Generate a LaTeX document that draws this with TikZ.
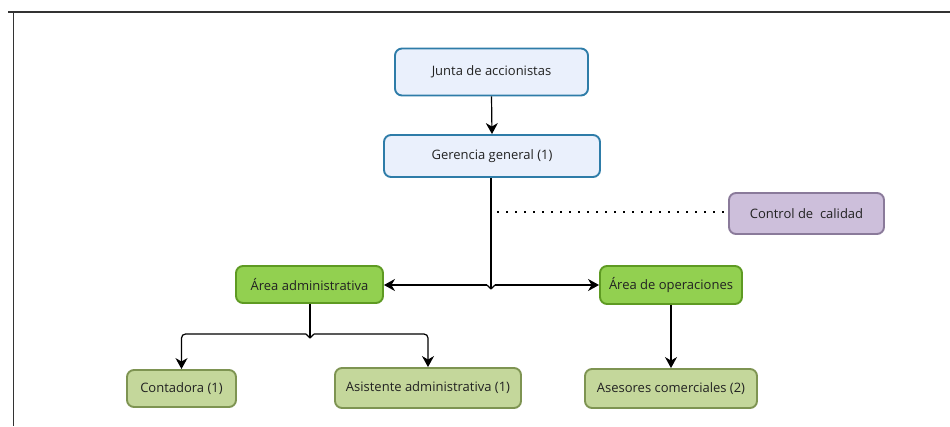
\documentclass[tikz,border=0pt]{standalone}
\usepackage{fontspec}
\setmainfont{Open Sans}
\usetikzlibrary{arrows.meta}
\definecolor{bluefill}{HTML}{EAF0FC}
\definecolor{blueline}{HTML}{2E7CA8}
\definecolor{purpfill}{HTML}{CDBFDB}
\definecolor{purpline}{HTML}{8A7A9A}
\definecolor{greenfill}{HTML}{92D050}
\definecolor{greenline}{HTML}{5E9A22}
\definecolor{olivefill}{HTML}{C4D79B}
\definecolor{oliveline}{HTML}{7E9452}
\definecolor{txt}{HTML}{222222}
\tikzset{
  box/.style={rounded corners=7pt, line width=1.9pt, text=txt, font=\fontsize{13}{15}\selectfont, inner sep=0pt, anchor=center},
  topbox/.style={box, draw=blueline, fill=bluefill},
  qcbox/.style={box, draw=purpline, fill=purpfill},
  areabox/.style={box, draw=greenline, fill=greenfill},
  leafbox/.style={box, draw=oliveline, fill=olivefill},
  conn/.style={draw=black, line width=1.2pt},
  arr/.style={conn, -{Stealth[length=11pt,width=12pt,inset=3.5pt]}},
}
\begin{document}
\begin{tikzpicture}[x=1pt,y=-1pt]
\useasboundingbox (0,0) rectangle (950,426);
\fill[white] (0,0) rectangle (950,426);
% frame
\draw[line width=1.3pt, draw=black!80] (8,12) -- (950,12);
\draw[line width=1pt, draw=black!80] (13,12) -- (13,426);
% nodes
\node[topbox, minimum width=193pt, minimum height=47pt] (junta) at (491.5,72) {Junta de accionistas};
\node[topbox, minimum width=216pt, minimum height=42pt] (ger) at (492,156) {Gerencia general (1)};
\node[qcbox, minimum width=155pt, minimum height=41pt] (qc) at (806.5,213.5) {Control de\ \ calidad};
\node[areabox, minimum width=147pt, minimum height=37pt] (adm) at (309.5,284.5) {Área administrativa};
\node[areabox, minimum width=142pt, minimum height=38pt] (ope) at (671,285) {Área de operaciones};
\node[leafbox, minimum width=109pt, minimum height=37pt] (cont) at (181.5,388.5) {Contadora (1)};
\node[leafbox, minimum width=186pt, minimum height=40pt] (asis) at (428,388) {Asistente administrativa (1)};
\node[leafbox, minimum width=172pt, minimum height=39pt] (ases) at (671,388.5) {Asesores comerciales (2)};
% coordinates
\coordinate (hj) at (491,285);
\coordinate (dotA) at (497,212);
\coordinate (aj) at (310,334);
% connectors
\draw[arr] (junta.south) -- (ger.north);
\draw[conn] (ger.south -| hj) -- ([yshift=-4pt]hj);
\draw[conn] ([yshift=-4pt]hj) -- ([xshift=-4pt]hj);
\draw[conn] ([yshift=-4pt]hj) -- ([xshift=4pt]hj);
\draw[arr] ([xshift=-4pt]hj) -- (adm.east |- hj);
\draw[arr] ([xshift=4pt]hj) -- (ope.west |- hj);
\draw[conn, line width=2pt, dash pattern=on 2pt off 7pt] (dotA) -- (qc.west |- dotA);
\draw[conn] (adm.south -| aj) -- ([yshift=-4pt]aj);
\draw[conn] ([yshift=-4pt]aj) -- ([xshift=-4pt]aj);
\draw[conn] ([yshift=-4pt]aj) -- ([xshift=4pt]aj);
\draw[arr, rounded corners=4pt] ([xshift=-4pt]aj) -- (cont.north |- aj) -- (cont.north);
\draw[arr, rounded corners=4pt] ([xshift=4pt]aj) -- (asis.north |- aj) -- (asis.north);
\draw[arr] (ope.south) -- (ases.north);
\end{tikzpicture}
\end{document}
